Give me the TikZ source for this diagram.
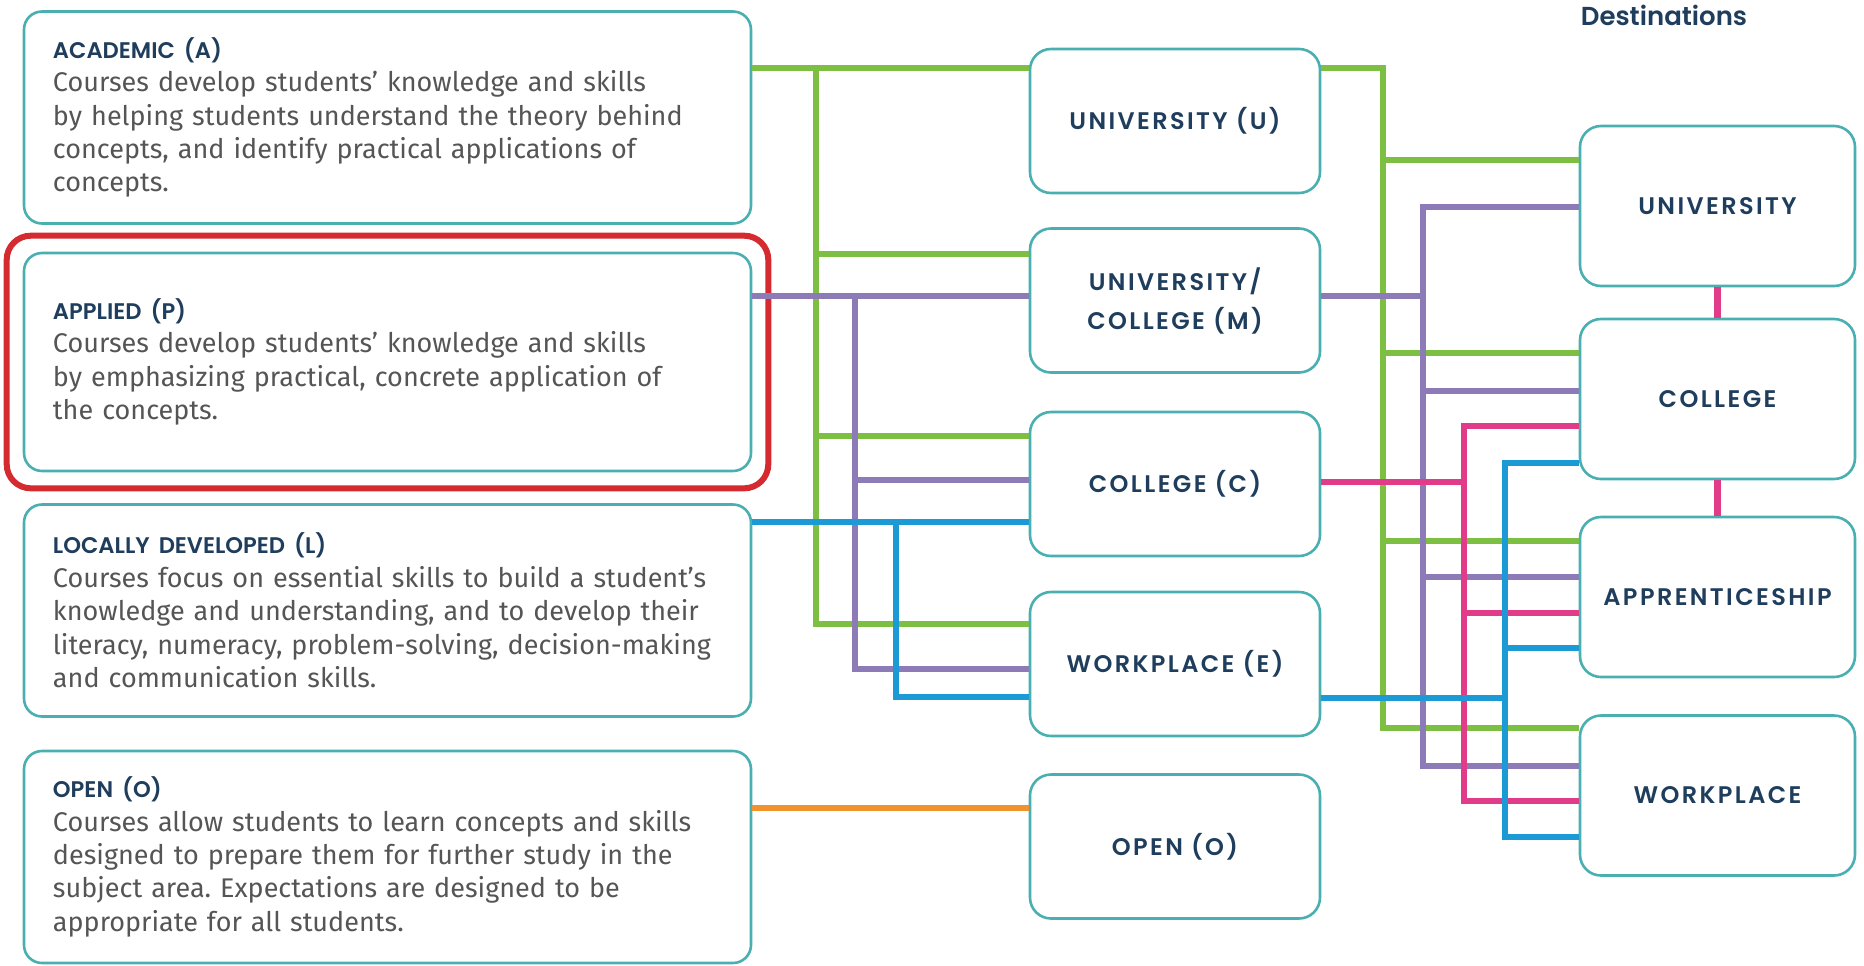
\documentclass[tikz,border=0pt]{standalone}
\usepackage{fontspec}
\setmainfont{Fira Sans}
\newfontfamily\labelfont{Poppins SemiBold}[LetterSpace=10]
\newfontfamily\headfont{Poppins SemiBold}
\usetikzlibrary{fit}
\frenchspacing

\definecolor{grn}{HTML}{7DBF42}
\definecolor{prp}{HTML}{8D7BB8}
\definecolor{blu}{HTML}{1B9AD6}
\definecolor{pnk}{HTML}{E03C8A}
\definecolor{org}{HTML}{F0922D}
\definecolor{boxline}{HTML}{4AAFB0}
\definecolor{navy}{HTML}{1F3D5C}
\definecolor{bodygray}{HTML}{555555}
\definecolor{redhl}{HTML}{D42A30}

\begin{document}
\begin{tikzpicture}[x = 0.5pt, y = -0.5pt,
        course/.style={rectangle, draw=boxline, line width=1.3pt, rounded corners=9pt, fill=white,
            minimum width=363.5pt, minimum height=106pt, text width=334.5pt, inner xsep=14.5pt,
            align=left, text=bodygray, font=\fontsize{13.5}{16.7}\selectfont},
        level/.style={rectangle, draw=boxline, line width=1.3pt, rounded corners=10.5pt, fill=white,
            minimum width=145pt, minimum height=72pt, align=center, text=navy,
            font=\labelfont\fontsize{12}{19.5}\selectfont},
        dest/.style={level, minimum width=137.5pt, minimum height=80pt},
        head/.style={font=\headfont\fontsize{13}{16}\selectfont, text=navy}
]
    \useasboundingbox (0,0) rectangle (1864,965);

    % course types
    \node[course] (acad) at (387.5,117.5) {{\headfont\color{navy}\fontsize{11.3}{16.7}\selectfont ACADEMIC (A)}\\
        Courses develop students’ knowledge and skills\\
        by helping students understand the theory behind\\
        concepts, and identify practical applications of\\
        concepts.};
    \node[course, minimum height=109pt] (appl) at (387.5,362) {{\headfont\color{navy}\fontsize{11.3}{16.7}\selectfont APPLIED (P)}\\
        Courses develop students’ knowledge and skills\\
        by emphasizing practical, concrete application of\\
        the concepts.};
    \node[course] (ldev) at (387.5,610.5) {{\headfont\color{navy}\fontsize{11.3}{16.7}\selectfont LOCALLY DEVELOPED (L)}\\
        Courses focus on essential skills to build a student’s\\
        knowledge and understanding, and to develop their\\
        literacy, numeracy, problem-solving, decision-making\\
        and communication skills.};
    \node[course] (open) at (387.5,857) {{\headfont\color{navy}\fontsize{11.3}{16.7}\selectfont OPEN (O)}\\
        Courses allow students to learn concepts and skills\\
        designed to prepare them for further study in the\\
        subject area. Expectations are designed to be\\
        appropriate for all students.};
    \node[draw=redhl, line width=3pt, rounded corners=12pt, inner sep=8pt, fit=(appl)] (hl) {};

    % course levels
    \node[level] (u) at (1175,121) {UNIVERSITY (U)};
    \node[level] (m) at (1175,300.5) {UNIVERSITY/\\COLLEGE (M)};
    \node[level] (c) at (1175,484) {COLLEGE (C)};
    \node[level] (e) at (1175,664) {WORKPLACE (E)};
    \node[level] (o) at (1175,846.5) {OPEN (O)};

    % destinations
    \node[head] (dtitle) at (1664,15) {Destinations};
    \node[dest] (duni) at (1717.5,206) {UNIVERSITY};
    \node[dest] (dcol) at (1717.5,399) {COLLEGE};
    \node[dest] (dapp) at (1717.5,597) {APPRENTICESHIP};
    \node[dest] (dwork) at (1717.5,795.5) {WORKPLACE};

    \coordinate (gl) at (816,68);
    \coordinate (pl) at (855,296);
    \coordinate (bl) at (896,522);
    \coordinate (gr) at (1383,68);
    \coordinate (pr) at (1423,296);
    \coordinate (kr) at (1464,482);
    \coordinate (br) at (1505,698);

\begin{scope}[line width=3.2pt]
    \draw[grn] (acad.east |- gl) -- (u.west |- gl);
    \draw[grn] (gl) |- (e.west |- 0,624);
    \draw[grn] (gl |- 0,254) -- (m.west |- 0,254);
    \draw[grn] (gl |- 0,436) -- (c.west |- 0,436);

    \draw[prp] (appl.east |- pl) -- (m.west |- pl);
    \draw[prp] (pl) |- (e.west |- 0,669);
    \draw[prp] (pl |- 0,480) -- (c.west |- 0,480);

    \draw[blu] (ldev.east |- bl) -- (c.west |- bl);
    \draw[blu] (bl) |- (e.west |- 0,697);

    \draw[org] (open.east |- 0,808) -- (o.west |- 0,808);

    \draw[grn] (u.east |- gr) -- (gr) |- (dwork.west |- 0,728);
    \draw[grn] (gr |- 0,160) -- (duni.west |- 0,160);
    \draw[grn] (gr |- 0,353) -- (dcol.west |- 0,353);
    \draw[grn] (gr |- 0,541) -- (dapp.west |- 0,541);

    \draw[prp] (m.east |- pr) -- (pr);
    \draw[prp] (duni.west |- 0,207) -| (pr |- 0,766) -- (dwork.west |- 0,766);
    \draw[prp] (pr |- 0,391) -- (dcol.west |- 0,391);
    \draw[prp] (pr |- 0,577) -- (dapp.west |- 0,577);

    \draw[pnk] (c.east |- kr) -- (kr);
    \draw[pnk] (dcol.west |- 0,426) -| (kr |- 0,801) -- (dwork.west |- 0,801);
    \draw[pnk] (kr |- 0,613) -- (dapp.west |- 0,613);

    \draw[blu] (e.east |- br) -- (br);
    \draw[blu] (dcol.west |- 0,463) -| (br |- 0,837) -- (dwork.west |- 0,837);
    \draw[blu] (br |- 0,648) -- (dapp.west |- 0,648);

    \draw[pnk] (duni.south) -- (dcol.north);
    \draw[pnk] (dcol.south) -- (dapp.north);
\end{scope}

\end{tikzpicture}
\end{document}
